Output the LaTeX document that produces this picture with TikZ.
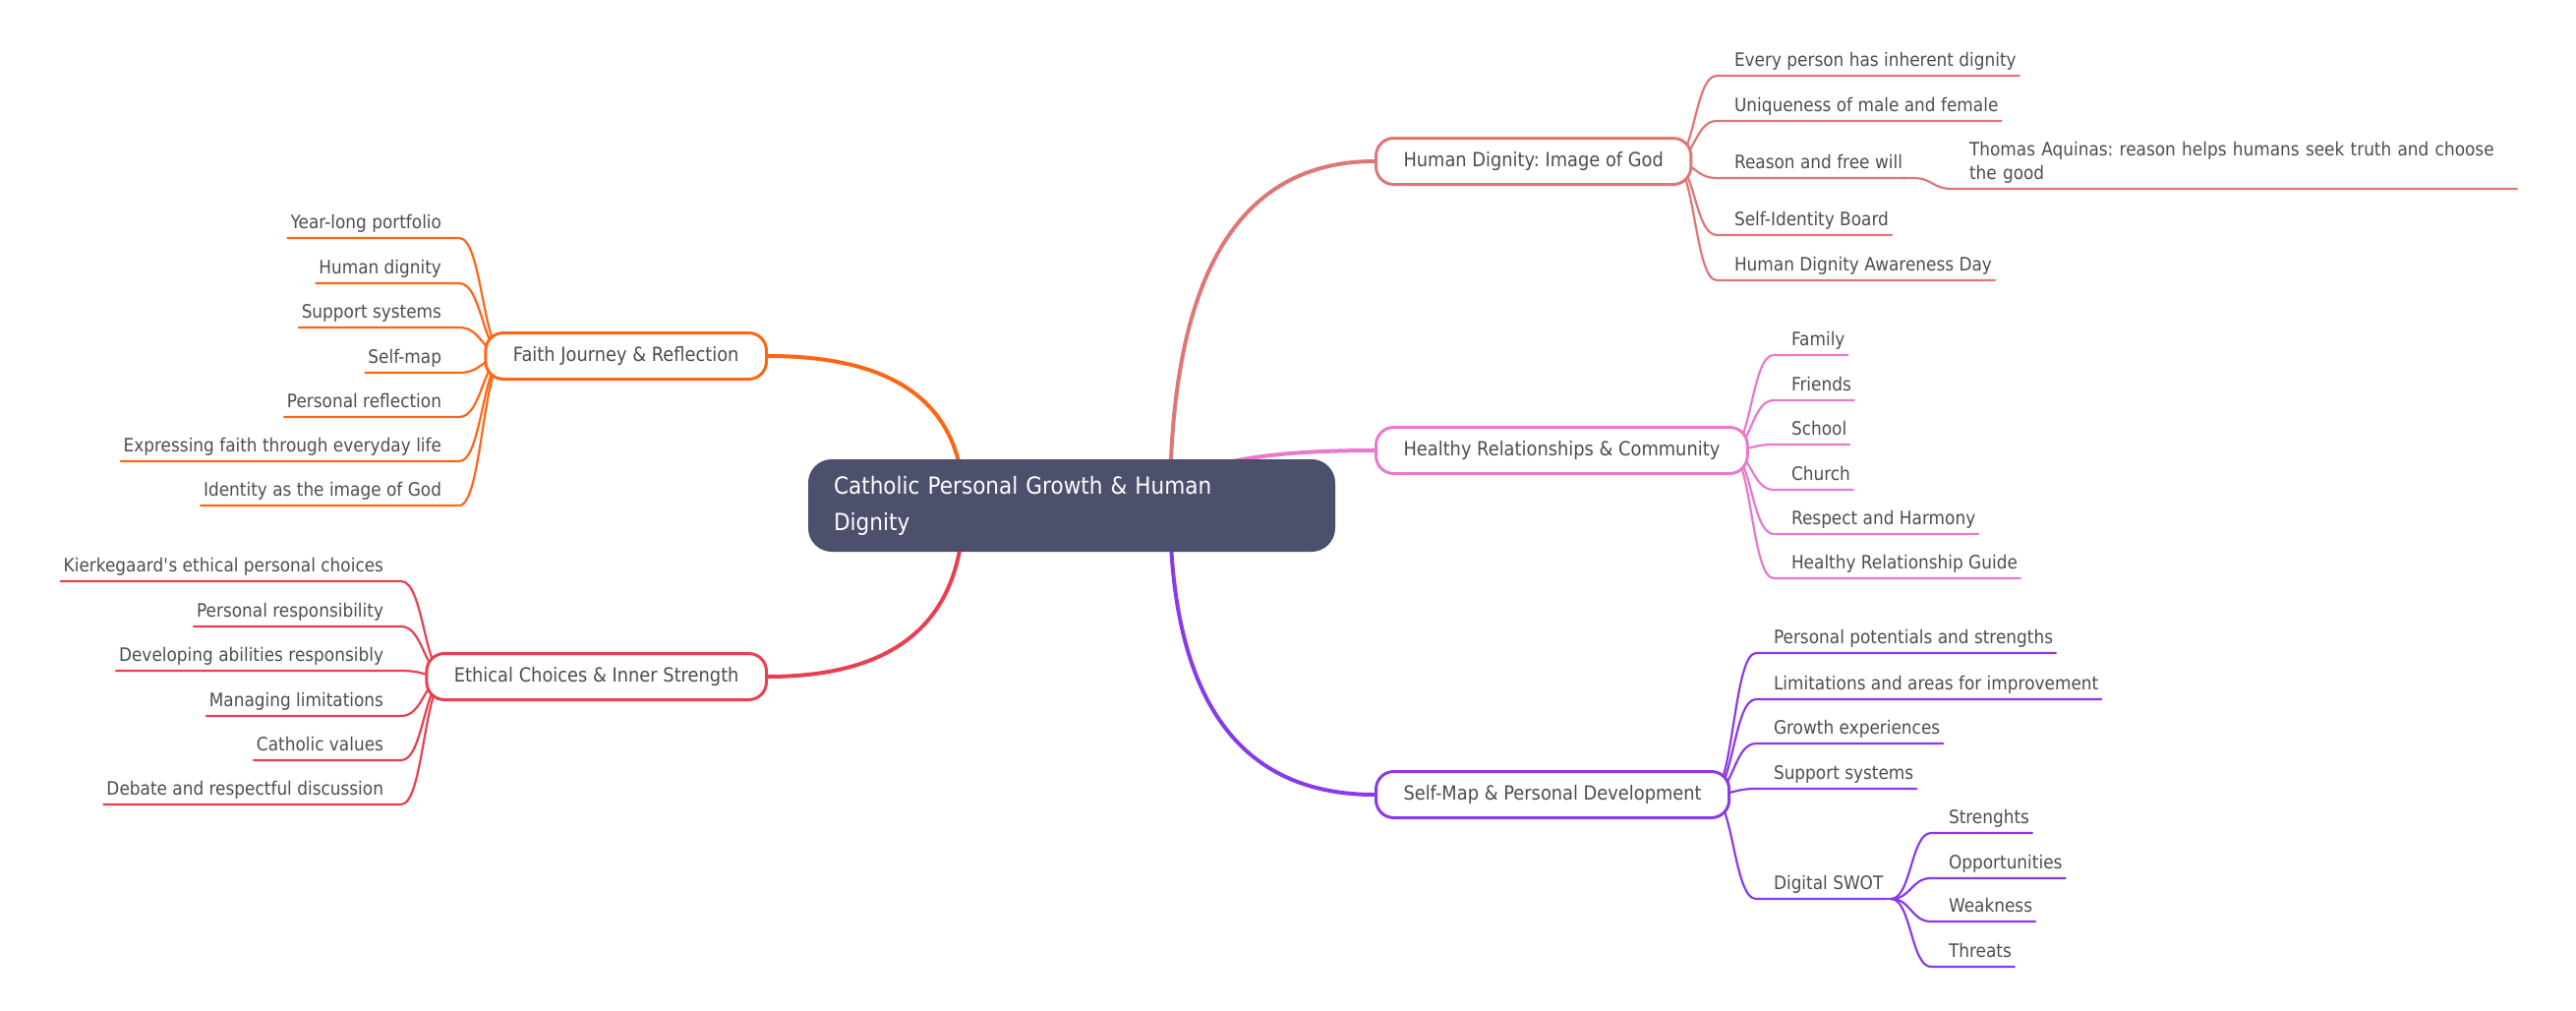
\documentclass[tikz,border=0pt]{standalone}
\usepackage{fontspec}
\setmainfont{DejaVu Sans}[FakeStretch=0.9]
\usetikzlibrary{positioning,calc,backgrounds}
\frenchspacing

\definecolor{ink}{HTML}{4D4D4D}
\definecolor{rootfill}{HTML}{4C506C}
\definecolor{colA}{HTML}{E07676}
\definecolor{colB}{HTML}{E879CF}
\definecolor{colC}{HTML}{8B3AE8}
\definecolor{colD}{HTML}{FF6614}
\definecolor{colE}{HTML}{E84050}

\newcommand\leaffont{\fontsize{9.4}{12.25}\selectfont}
\newcommand\topicfont{\fontsize{9.9}{12}\selectfont}
\newcommand\rootfont{\fontsize{12}{18.5}\selectfont}

\tikzset{
  root/.style={fill=rootfill,text=white,rounded corners=12pt,minimum width=268pt,
    minimum height=47pt,text width=242pt,align=left,inner xsep=13pt,font=\rootfont},
  topic/.style={draw,fill=white,line width=1.5pt,rounded corners=9pt,
    minimum height=23.5pt,inner xsep=14pt,text=ink,font=\topicfont},
  leaf/.style={inner xsep=0pt,inner ysep=4.75pt,outer sep=0pt,text depth=0pt,
    text=ink,font=\leaffont},
  bough/.style={line width=2pt,to path={.. controls
    ($(\tikztostart)!2/3!(\tikztostart |- \tikztotarget)$) and
    ($(\tikztotarget)!2/3!(\tikztostart |- \tikztotarget)$) .. (\tikztotarget)}},
  twig/.style={line width=1.1pt,line cap=round,to path={.. controls
    ($(\tikztostart)!.5!(\tikztostart -| \tikztotarget)$) and
    ($(\tikztotarget)!.5!(\tikztotarget -| \tikztostart)$) .. (\tikztotarget)}}
}

\begin{document}
\begin{tikzpicture}[x=0.5pt,y=-0.5pt]
\useasboundingbox (0,0) rectangle (2620,1028);

% centre and main topics
\node[root] (root) at (1090,514) {Catholic Personal Growth \& Human\\Dignity};
\node[topic,draw=colA,anchor=west] (A) at (1398,164) {Human Dignity: Image of God};
\node[topic,draw=colB,anchor=west] (B) at (1398,458) {Healthy Relationships \& Community};
\node[topic,draw=colC,anchor=west] (C) at (1398,808) {Self-Map \& Personal Development};
\node[topic,draw=colD,anchor=east] (D) at (781,362) {Faith Journey \& Reflection};
\node[topic,draw=colE,anchor=east] (E) at (781,688) {Ethical Choices \& Inner Strength};

\coordinate (rootR) at ([xshift=50pt]root.center);
\coordinate (rootL) at ([xshift=-55pt]root.center);
\coordinate (A-src) at ([xshift=-10pt]A.east);
\coordinate (B-src) at ([xshift=-10pt]B.east);
\coordinate (C-src) at ([xshift=-10pt]C.east);
\coordinate (D-src) at ([xshift=11pt]D.west);
\coordinate (E-src) at ([xshift=11pt]E.west);

% right leaves
\foreach \t/\y[count=\i] in {Every person has inherent dignity/77,Uniqueness of male and female/123,
  Reason and free will/181,Self-Identity Board/239,Human Dignity Awareness Day/285}{
  \node[leaf,anchor=south west] (a\i) at (1764,\y) {\t};
  \coordinate (a\i-in) at ([xshift=-9pt]a\i.south west);
}
\foreach \t/\y[count=\i] in {Family/361,Friends/407,School/452,Church/498,
  Respect and Harmony/543,Healthy Relationship Guide/588}{
  \node[leaf,anchor=south west] (b\i) at (1822,\y) {\t};
  \coordinate (b\i-in) at ([xshift=-9pt]b\i.south west);
}
\foreach \t/\y[count=\i] in {Personal potentials and strengths/664,Limitations and areas for improvement/711,
  Growth experiences/756,Support systems/802,Digital SWOT/914}{
  \node[leaf,anchor=south west] (c\i) at (1804,\y) {\t};
  \coordinate (c\i-in) at ([xshift=-9pt]c\i.south west);
}
\foreach \t/\y[count=\i] in {Strenghts/847,Opportunities/893,Weakness/937,Threats/983}{
  \node[leaf,anchor=south west] (s\i) at (1982,\y) {\t};
  \coordinate (s\i-in) at ([xshift=-9pt]s\i.south west);
}
\node[leaf,anchor=south west,align=left,text width=277pt,text depth=12.25pt] (t1) at (2003,192)
  {Thomas Aquinas: reason helps humans seek truth and choose\\the good};
\coordinate (t1-in) at ([xshift=-9pt]t1.south west);
\coordinate (a3-out) at ([xshift=5.5pt]a3.south east);
\coordinate (c5-out) at ([xshift=4pt]c5.south east);

% left leaves
\foreach \t/\y[count=\i] in {Year-long portfolio/242,Human dignity/288,Support systems/333,Self-map/379,
  Personal reflection/424,Expressing faith through everyday life/469,Identity as the image of God/514}{
  \node[leaf,anchor=south east] (d\i) at (449,\y) {\t};
  \coordinate (d\i-in) at ([xshift=9pt]d\i.south east);
}
\foreach \t/\y[count=\i] in {Kierkegaard\textquotesingle s ethical personal choices/591,Personal responsibility/637,
  Developing abilities responsibly/682,Managing limitations/728,Catholic values/773,
  Debate and respectful discussion/818}{
  \node[leaf,anchor=south east] (e\i) at (390,\y) {\t};
  \coordinate (e\i-in) at ([xshift=9pt]e\i.south east);
}

% connectors
\begin{scope}[on background layer]
\draw[bough,colA] (rootR) to (A.west);
\draw[bough,colB] (rootR) to (B.west);
\draw[bough,colC] (rootR) to (C.west);
\draw[bough,colD] (rootL) to (D.east);
\draw[bough,colE] (rootL) to (E.east);
\foreach \i in {1,...,5}
  \draw[twig,colA] (A-src) to (a\i-in) -- ([xshift=1.5pt]a\i.south east);
\draw[twig,colA] (a3.south east) -- (a3-out) to (t1-in) -- ([xshift=1.5pt]t1.south east);
\foreach \i in {1,...,6}
  \draw[twig,colB] (B-src) to (b\i-in) -- ([xshift=1.5pt]b\i.south east);
\foreach \i in {1,...,5}
  \draw[twig,colC] (C-src) to (c\i-in) -- ([xshift=1.5pt]c\i.south east);
\foreach \i in {1,...,4}
  \draw[twig,colC] (c5-out) to (s\i-in) -- ([xshift=1.5pt]s\i.south east);
\draw[twig,colC] (c5.south east) -- (c5-out);
\foreach \i in {1,...,7}
  \draw[twig,colD] (D-src) to (d\i-in) -- ([xshift=-1.5pt]d\i.south west);
\foreach \i in {1,...,6}
  \draw[twig,colE] (E-src) to (e\i-in) -- ([xshift=-1.5pt]e\i.south west);
\end{scope}
\end{tikzpicture}
\end{document}
